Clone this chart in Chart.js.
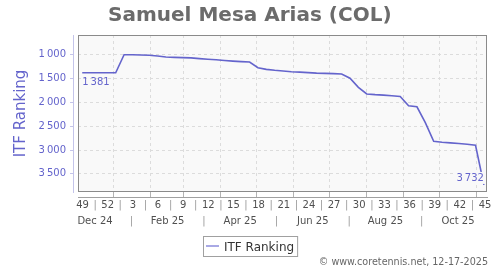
<!DOCTYPE html>
<html>
<head>
<meta charset="utf-8">
<script src="https://cdn.jsdelivr.net/npm/chart.js@4"></script>
<style>
  body { margin: 0; background: #fff; }
  canvas { display: block; }
</style>
</head>
<body>
<canvas id="rankChart" width="500" height="270"></canvas>
<script>
// ISO week of each weekly ranking (Dec 2024 -> Nov 2025)
const weekNums = [49, 50, 51, 52, 1, 2, 3, 4, 5, 6, 7, 8, 9, 10, 11, 12, 13, 14, 15, 16,
    17, 18, 19, 20, 21, 22, 23, 24, 25, 26, 27, 28, 29, 30, 31, 32, 33, 34, 35, 36,
    37, 38, 39, 40, 41, 42, 43, 44, 45];
const rankings = [1381, 1381, 1381, 1381, 1381, 1003, 1005, 1010, 1015, 1030, 1050, 1058, 1064, 1070,
    1085, 1098, 1110, 1125, 1137, 1148, 1157, 1275, 1311, 1330, 1345, 1360, 1368, 1378, 1388,
    1394, 1399, 1408, 1496, 1686, 1826, 1840, 1850, 1862, 1877, 2074, 2095, 2428, 2816, 2837,
    2850, 2865, 2880, 2900, 3732];
const yTicks = [1000, 1500, 2000, 2500, 3000, 3500];
const weekTickLabels = ['49', '52', '3', '6', '9', '12', '15', '18', '21', '24', '27', '30', '33', '36', '39', '42', '45'];
const monthTickLabels = ['Dec 24', 'Feb 25', 'Apr 25', 'Jun 25', 'Aug 25', 'Oct 25'];

const BLUE = '#6464cc';
const FONT = "'DejaVu Sans', Verdana, sans-serif";

// days since Jan 1 2025 (ranking plotted on the Friday of its ISO week)
function weekToDay(w) {
    if (w >= 49) return -30 + (w - 49) * 7 + 4;
    return -2 + (w - 1) * 7 + 4;
}
// month starts used for the vertical grid
const monthStarts = [];
for (let m = 0; m < 11; m++) {
    monthStarts.push((Date.UTC(2025, m, 1) - Date.UTC(2025, 0, 1)) / 864e5);
}
// label rows with separators
const weekRow = [];
weekTickLabels.forEach((l, i) => { if (i) weekRow.push('|'); weekRow.push(l); });
const monthRow = [];
monthTickLabels.forEach((l, i) => { if (i) monthRow.push('|'); monthRow.push(l); });

function fmt(n) {
    return String(n).replace(/\B(?=(\d{3})+(?!\d))/g, '\u2009');
}

const points = weekNums.map((w, i) => ({ x: weekToDay(w), y: rankings[i] }));

const framePlugin = {
    id: 'frame',
    beforeDraw(chart) {
        const { ctx, chartArea: a } = chart;
        ctx.save();
        ctx.fillStyle = '#f9f9f9';
        ctx.fillRect(a.left, a.top, a.right - a.left, a.bottom - a.top);
        ctx.restore();
    },
    afterDatasetsDraw(chart) {
        const { ctx, chartArea: a } = chart;
        const meta = chart.getDatasetMeta(0);
        ctx.save();
        ctx.font = '10px ' + FONT;
        // first and last value labels
        const first = meta.data[0];
        const last = meta.data[meta.data.length - 1];
        const t1 = fmt(rankings[0]);
        ctx.fillStyle = BLUE;
        ctx.textAlign = 'left';
        ctx.textBaseline = 'alphabetic';
        ctx.fillText(t1, first.x, first.y + 12.5);
        const t2 = fmt(rankings[rankings.length - 1]);
        const w2 = ctx.measureText(t2).width;
        ctx.fillStyle = '#f9f9f9';
        ctx.fillRect(last.x - w2 - 1, last.y - 13, w2 + 3, 12);
        ctx.fillStyle = BLUE;
        ctx.textAlign = 'right';
        ctx.fillText(t2, last.x, last.y - 4);
        // plot frame
        ctx.strokeStyle = '#8a8a8a';
        ctx.lineWidth = 1;
        ctx.strokeRect(Math.round(a.left) + 0.5, Math.round(a.top) + 0.5,
            Math.round(a.right - a.left) - 1, Math.round(a.bottom - a.top) - 1);
        ctx.restore();
    },
    afterDraw(chart) {
        const { ctx } = chart;
        const ds = chart.data.datasets[0];
        ctx.save();
        // legend box
        ctx.font = '12px ' + FONT;
        const tw = ctx.measureText(ds.label).width;
        const w = 2 + 13 + 5 + tw + 4;
        const x0 = Math.round(chart.width / 2 - w / 2) + 0.5;
        ctx.fillStyle = '#fff';
        ctx.fillRect(x0, 236.5, w, 20);
        ctx.strokeStyle = '#a0a0a0';
        ctx.lineWidth = 1;
        ctx.strokeRect(x0, 236.5, w, 20);
        ctx.strokeStyle = '#8c8cdc';
        ctx.lineWidth = 1.5;
        ctx.beginPath();
        ctx.moveTo(x0 + 2.5, 246);
        ctx.lineTo(x0 + 15.5, 246);
        ctx.stroke();
        ctx.fillStyle = '#333';
        ctx.textAlign = 'left';
        ctx.textBaseline = 'alphabetic';
        ctx.fillText(ds.label, x0 + 20.5, 250.5);
        // footer
        ctx.font = '9.6px ' + FONT;
        ctx.fillStyle = '#666';
        ctx.textAlign = 'right';
        ctx.fillText('\u00a9 www.coretennis.net, 12-17-2025', 488, 265);
        ctx.restore();
    }
};

Chart.defaults.font.family = FONT;

new Chart(document.getElementById('rankChart'), {
    type: 'line',
    data: {
        datasets: [{
            label: 'ITF Ranking',
            data: points,
            borderColor: BLUE,
            borderWidth: 1.6,
            pointRadius: 0,
            tension: 0,
            fill: false
        }]
    },
    options: {
        responsive: false,
        animation: false,
        layout: { padding: { left: 12.6, right: 13, top: 0, bottom: 41 } },
        plugins: {
            legend: { display: false },
            tooltip: { enabled: false },
            title: {
                display: true,
                text: 'Samuel Mesa Arias (COL)',
                color: '#6b6b6b',
                font: { size: 20, weight: 'bold' },
                padding: { top: 4, bottom: 7 }
            }
        },
        scales: {
            x: {
                type: 'linear',
                position: 'bottom',
                weight: 0,
                min: -29.5,
                max: 312.6,
                afterBuildTicks: axis => { axis.ticks = monthStarts.map(v => ({ value: v })); },
                ticks: { display: false },
                grid: { color: '#dcdcdc', drawTicks: true, tickLength: 5, tickColor: '#b4b4b4' },
                border: { display: false, dash: [3, 3] }
            },
            wk: {
                type: 'linear',
                position: 'bottom',
                weight: 1,
                min: -0.358,
                max: 32.159,
                afterBuildTicks: axis => { axis.ticks = weekRow.map((_, i) => ({ value: i })); },
                ticks: {
                    autoSkip: false, maxRotation: 0, minRotation: 0, padding: 2,
                    font: { size: 10 },
                    color: c => (c.index % 2 ? '#9a9a9a' : '#505050'),
                    callback: (v, i) => weekRow[i]
                },
                grid: { display: false, drawTicks: false },
                border: { display: true, color: '#a0a0a0' }
            },
            mo: {
                type: 'linear',
                position: 'bottom',
                weight: 2,
                min: -0.468,
                max: 10.799,
                afterBuildTicks: axis => { axis.ticks = monthRow.map((_, i) => ({ value: i })); },
                ticks: {
                    autoSkip: false, maxRotation: 0, minRotation: 0, padding: 2,
                    font: { size: 10 },
                    color: c => (c.index % 2 ? '#9a9a9a' : '#505050'),
                    callback: (v, i) => monthRow[i]
                },
                grid: { display: false, drawTicks: false },
                border: { display: false }
            },
            y: {
                type: 'linear',
                position: 'left',
                weight: 0,
                reverse: true,
                min: 590,
                max: 3880,
                afterBuildTicks: axis => { axis.ticks = yTicks.map(v => ({ value: v })); },
                ticks: { display: false },
                grid: { color: '#dcdcdc', drawTicks: true, tickLength: 5, tickColor: 'rgba(0,0,0,0)' },
                border: { display: false, dash: [3, 3] }
            },
            yl: {
                type: 'linear',
                position: 'left',
                weight: 1,
                reverse: true,
                min: 590,
                max: 3880,
                afterBuildTicks: axis => { axis.ticks = yTicks.map(v => ({ value: v })); },
                ticks: { color: BLUE, padding: 4, font: { size: 10 }, callback: v => fmt(v) },
                grid: { display: true, drawOnChartArea: false, drawTicks: true, tickLength: 3, tickColor: '#c4c4ea' },
                border: { display: true, color: '#c4c4ea' },
                title: {
                    display: true,
                    text: 'ITF Ranking',
                    color: BLUE,
                    font: { size: 15 },
                    padding: { top: 0, bottom: 4 }
                }
            }
        }
    },
    plugins: [framePlugin]
});
</script>
</body>
</html>
